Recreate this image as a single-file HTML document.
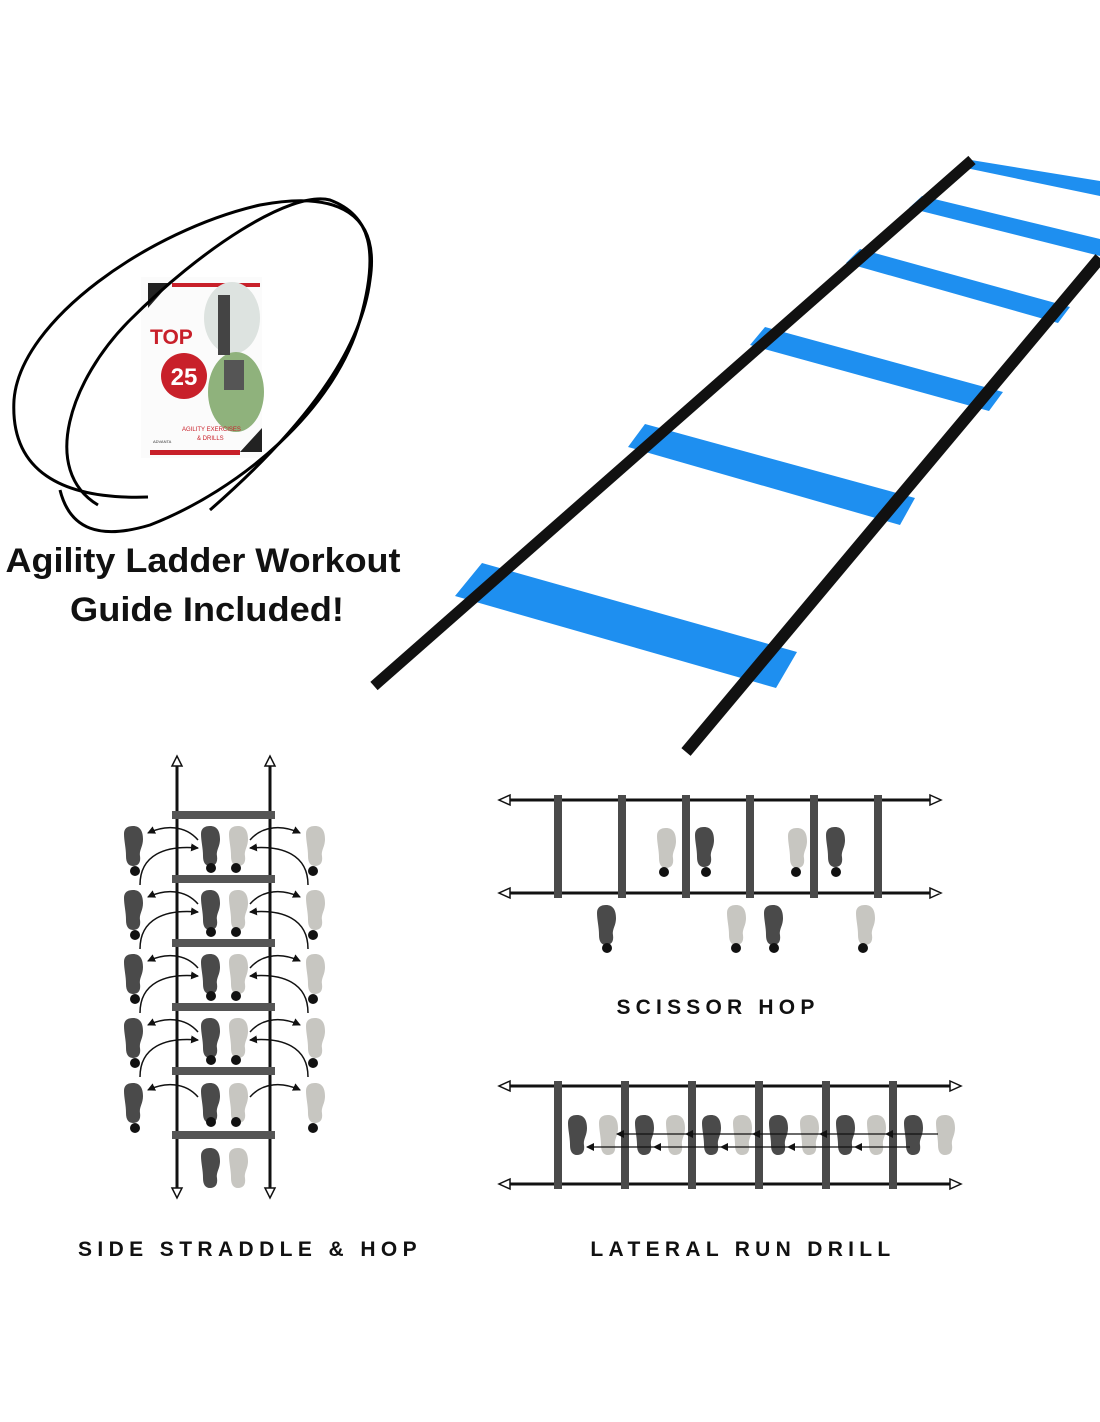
<!DOCTYPE html>
<html><head><meta charset="utf-8"><style>
html,body{margin:0;padding:0;background:#fff;}
svg{display:block;}
</style></head><body>
<svg width="1100" height="1422" viewBox="0 0 1100 1422" xmlns="http://www.w3.org/2000/svg">
<defs>
<path id="ft" d="M-1,0 C6,0 9,5 9,13 C9,21 5,24 6,30 C7,37 4,40 -1,40 C-6,40 -8,36 -8,30 C-8,22 -10,15 -10,8 C-10,2 -6,0 -1,0Z"/>
<marker id="ah" markerWidth="8" markerHeight="8" refX="7" refY="4" orient="auto" markerUnits="userSpaceOnUse"><path d="M0,0 L8,4 L0,8Z" fill="#111"/></marker>
</defs>
<rect width="1100" height="1422" fill="#fff"/>

<!-- Book -->
<g>
<rect x="141" y="277" width="121" height="181" fill="#fbfbfb"/>
<polygon points="148,283 170,283 148,308" fill="#222"/>
<rect x="172" y="283" width="88" height="4" fill="#c8202a"/>
<polygon points="262,428 262,452 240,452" fill="#222"/>
<rect x="150" y="450" width="90" height="5" fill="#c8202a"/>
<ellipse cx="232" cy="318" rx="28" ry="36" fill="#dde3e0"/>
<ellipse cx="236" cy="392" rx="28" ry="40" fill="#8fb27c"/>
<rect x="218" y="295" width="12" height="60" fill="#444"/>
<rect x="224" y="360" width="20" height="30" fill="#555"/>
<text x="150" y="344" font-family="Liberation Sans, sans-serif" font-weight="bold" font-size="21" fill="#c8202a">TOP</text>
<circle cx="184" cy="376" r="23" fill="#c8202a"/>
<text x="184" y="385" text-anchor="middle" font-family="Liberation Sans, sans-serif" font-weight="bold" font-size="24" fill="#fff">25</text>
<text x="182" y="431" font-family="Liberation Sans, sans-serif" font-size="6" fill="#c8202a">AGILITY EXERCISES</text>
<text x="197" y="440" font-family="Liberation Sans, sans-serif" font-size="6" fill="#c8202a">&amp; DRILLS</text>
<text x="153" y="443" font-family="Liberation Sans, sans-serif" font-size="4" fill="#333">ADVANTA</text>
</g>
<!-- scribbles -->
<g fill="none" stroke="#000" stroke-width="3">
<path d="M148,497 C60,500 10,470 14,400 C20,320 150,230 260,205 C340,190 380,215 370,280 C360,360 290,440 210,510"/>
<path d="M98,505 C40,470 70,380 130,320 C200,250 290,190 330,200 C370,215 380,250 360,320 C335,410 240,490 150,525 C100,540 70,530 60,490"/>
</g>
<text x="203" y="572" text-anchor="middle" font-family="Liberation Sans, sans-serif" font-weight="bold" font-size="34" fill="#111" textLength="395" lengthAdjust="spacingAndGlyphs">Agility Ladder Workout</text>
<text x="207" y="621" text-anchor="middle" font-family="Liberation Sans, sans-serif" font-weight="bold" font-size="34" fill="#111" textLength="274" lengthAdjust="spacingAndGlyphs">Guide Included!</text>

<!-- Big ladder -->
<g>
<polygon points="482,563 797,652 776,688 455,596" fill="#1e8ff0"/>
<polygon points="645,424 915,498 900,525 628,447" fill="#1e8ff0"/>
<polygon points="765,327 1003,392 989,411 750,345" fill="#1e8ff0"/>
<polygon points="860,249 1070,307 1058,323 846,263" fill="#1e8ff0"/>
<polygon points="922,196 1100,239 1100,256 909,208" fill="#1e8ff0"/>
<polygon points="971,160 1100,181 1100,196 966,168" fill="#1e8ff0"/>
<line x1="374" y1="686" x2="972" y2="160" stroke="#111" stroke-width="11"/>
<line x1="686" y1="752" x2="1100" y2="258" stroke="#111" stroke-width="12"/>
</g>

<!-- Side straddle -->
<g>
<line x1="177" y1="760" x2="177" y2="1196" stroke="#111" stroke-width="3"/>
<line x1="270" y1="760" x2="270" y2="1196" stroke="#111" stroke-width="3"/>
<path d="M172,766 L177,756 L182,766Z M265,766 L270,756 L275,766Z M172,1188 L177,1198 L182,1188Z M265,1188 L270,1198 L275,1188Z" fill="#fff" stroke="#111" stroke-width="1.5"/>
<g fill="#555">
<rect x="172" y="811" width="103" height="8"/><rect x="172" y="875" width="103" height="8"/>
<rect x="172" y="939" width="103" height="8"/><rect x="172" y="1003" width="103" height="8"/>
<rect x="172" y="1067" width="103" height="8"/><rect x="172" y="1131" width="103" height="8"/>
</g>
<g>
<use href="#ft" x="134" y="826" fill="#4a4a4a"/><use href="#ft" x="211" y="826" fill="#4a4a4a"/><use href="#ft" x="239" y="826" fill="#c7c6c1"/><use href="#ft" x="316" y="826" fill="#c7c6c1"/>
<use href="#ft" x="134" y="890" fill="#4a4a4a"/><use href="#ft" x="211" y="890" fill="#4a4a4a"/><use href="#ft" x="239" y="890" fill="#c7c6c1"/><use href="#ft" x="316" y="890" fill="#c7c6c1"/>
<use href="#ft" x="134" y="954" fill="#4a4a4a"/><use href="#ft" x="211" y="954" fill="#4a4a4a"/><use href="#ft" x="239" y="954" fill="#c7c6c1"/><use href="#ft" x="316" y="954" fill="#c7c6c1"/>
<use href="#ft" x="134" y="1018" fill="#4a4a4a"/><use href="#ft" x="211" y="1018" fill="#4a4a4a"/><use href="#ft" x="239" y="1018" fill="#c7c6c1"/><use href="#ft" x="316" y="1018" fill="#c7c6c1"/>
<use href="#ft" x="134" y="1083" fill="#4a4a4a"/><use href="#ft" x="211" y="1083" fill="#4a4a4a"/><use href="#ft" x="239" y="1083" fill="#c7c6c1"/><use href="#ft" x="316" y="1083" fill="#c7c6c1"/>
<use href="#ft" x="211" y="1148" fill="#4a4a4a"/><use href="#ft" x="239" y="1148" fill="#c7c6c1"/>
</g>
<g fill="#111">
<circle cx="135" cy="871" r="5"/><circle cx="211" cy="868" r="5"/><circle cx="236" cy="868" r="5"/><circle cx="313" cy="871" r="5"/>
<circle cx="135" cy="935" r="5"/><circle cx="211" cy="932" r="5"/><circle cx="236" cy="932" r="5"/><circle cx="313" cy="935" r="5"/>
<circle cx="135" cy="999" r="5"/><circle cx="211" cy="996" r="5"/><circle cx="236" cy="996" r="5"/><circle cx="313" cy="999" r="5"/>
<circle cx="135" cy="1063" r="5"/><circle cx="211" cy="1060" r="5"/><circle cx="236" cy="1060" r="5"/><circle cx="313" cy="1063" r="5"/>
<circle cx="135" cy="1128" r="5"/><circle cx="211" cy="1122" r="5"/><circle cx="236" cy="1122" r="5"/><circle cx="313" cy="1128" r="5"/>
</g>
<g fill="none" stroke="#111" stroke-width="1.5" marker-end="url(#ah)">
<path d="M198,840 C185,825 165,825 148,833"/><path d="M250,840 C263,825 283,825 300,833"/>
<path d="M140,885 C140,855 165,845 198,848"/><path d="M308,885 C308,855 283,845 250,848"/>
<path d="M198,904 C185,889 165,889 148,897"/><path d="M250,904 C263,889 283,889 300,897"/>
<path d="M140,949 C140,919 165,909 198,912"/><path d="M308,949 C308,919 283,909 250,912"/>
<path d="M198,968 C185,953 165,953 148,961"/><path d="M250,968 C263,953 283,953 300,961"/>
<path d="M140,1013 C140,983 165,973 198,976"/><path d="M308,1013 C308,983 283,973 250,976"/>
<path d="M198,1032 C185,1017 165,1017 148,1025"/><path d="M250,1032 C263,1017 283,1017 300,1025"/>
<path d="M140,1077 C140,1047 165,1037 198,1040"/><path d="M308,1077 C308,1047 283,1037 250,1040"/>
<path d="M198,1097 C185,1082 165,1082 148,1090"/><path d="M250,1097 C263,1082 283,1082 300,1090"/>
</g>
</g>
<text x="250" y="1256" text-anchor="middle" font-family="Liberation Sans, sans-serif" font-weight="bold" font-size="21" letter-spacing="5.4" fill="#111">SIDE STRADDLE &amp; HOP</text>

<!-- Scissor hop -->
<g>
<line x1="505" y1="800" x2="935" y2="800" stroke="#111" stroke-width="3"/>
<line x1="505" y1="893" x2="935" y2="893" stroke="#111" stroke-width="3"/>
<path d="M510,795 L499,800 L510,805Z M930,795 L941,800 L930,805Z M510,888 L499,893 L510,898Z M930,888 L941,893 L930,898Z" fill="#fff" stroke="#111" stroke-width="1.5"/>
<g fill="#4a4a4a"><rect x="554" y="795" width="8" height="103"/><rect x="618" y="795" width="8" height="103"/><rect x="682" y="795" width="8" height="103"/><rect x="746" y="795" width="8" height="103"/><rect x="810" y="795" width="8" height="103"/><rect x="874" y="795" width="8" height="103"/></g>
<use href="#ft" x="667" y="828" fill="#c7c6c1"/><use href="#ft" x="705" y="827" fill="#4a4a4a"/><use href="#ft" x="798" y="828" fill="#c7c6c1"/><use href="#ft" x="836" y="827" fill="#4a4a4a"/>
<use href="#ft" x="607" y="905" fill="#4a4a4a"/><use href="#ft" x="737" y="905" fill="#c7c6c1"/><use href="#ft" x="774" y="905" fill="#4a4a4a"/><use href="#ft" x="866" y="905" fill="#c7c6c1"/>
<g fill="#111"><circle cx="664" cy="872" r="5"/><circle cx="706" cy="872" r="5"/><circle cx="796" cy="872" r="5"/><circle cx="836" cy="872" r="5"/>
<circle cx="607" cy="948" r="5"/><circle cx="736" cy="948" r="5"/><circle cx="774" cy="948" r="5"/><circle cx="863" cy="948" r="5"/></g>
</g>
<text x="718" y="1014" text-anchor="middle" font-family="Liberation Sans, sans-serif" font-weight="bold" font-size="21" letter-spacing="5.2" fill="#111">SCISSOR HOP</text>

<!-- Lateral run -->
<g>
<line x1="505" y1="1086" x2="952" y2="1086" stroke="#111" stroke-width="3"/>
<line x1="505" y1="1184" x2="952" y2="1184" stroke="#111" stroke-width="3"/>
<path d="M510,1081 L499,1086 L510,1091Z M950,1081 L961,1086 L950,1091Z M510,1179 L499,1184 L510,1189Z M950,1179 L961,1184 L950,1189Z" fill="#fff" stroke="#111" stroke-width="1.5"/>
<g fill="#4a4a4a"><rect x="554" y="1081" width="8" height="108"/><rect x="621" y="1081" width="8" height="108"/><rect x="688" y="1081" width="8" height="108"/><rect x="755" y="1081" width="8" height="108"/><rect x="822" y="1081" width="8" height="108"/><rect x="889" y="1081" width="8" height="108"/></g>
<g>
<use href="#ft" x="578" y="1115" fill="#4a4a4a"/><use href="#ft" x="609" y="1115" fill="#c7c6c1"/>
<use href="#ft" x="645" y="1115" fill="#4a4a4a"/><use href="#ft" x="676" y="1115" fill="#c7c6c1"/>
<use href="#ft" x="712" y="1115" fill="#4a4a4a"/><use href="#ft" x="743" y="1115" fill="#c7c6c1"/>
<use href="#ft" x="779" y="1115" fill="#4a4a4a"/><use href="#ft" x="810" y="1115" fill="#c7c6c1"/>
<use href="#ft" x="846" y="1115" fill="#4a4a4a"/><use href="#ft" x="877" y="1115" fill="#c7c6c1"/>
<use href="#ft" x="914" y="1115" fill="#4a4a4a"/><use href="#ft" x="946" y="1115" fill="#c7c6c1"/>
</g>
<g stroke="#111" stroke-width="1.2" marker-end="url(#ah)">
<line x1="938" y1="1134" x2="886" y2="1134"/><line x1="886" y1="1134" x2="820" y2="1134"/><line x1="820" y1="1134" x2="753" y2="1134"/><line x1="753" y1="1134" x2="686" y2="1134"/><line x1="686" y1="1134" x2="617" y2="1134"/>
<line x1="910" y1="1147" x2="855" y2="1147"/><line x1="855" y1="1147" x2="788" y2="1147"/><line x1="788" y1="1147" x2="721" y2="1147"/><line x1="721" y1="1147" x2="654" y2="1147"/><line x1="654" y1="1147" x2="587" y2="1147"/>
</g>
</g>
<text x="743" y="1256" text-anchor="middle" font-family="Liberation Sans, sans-serif" font-weight="bold" font-size="21" letter-spacing="5.3" fill="#111">LATERAL RUN DRILL</text>
</svg>
</body></html>
